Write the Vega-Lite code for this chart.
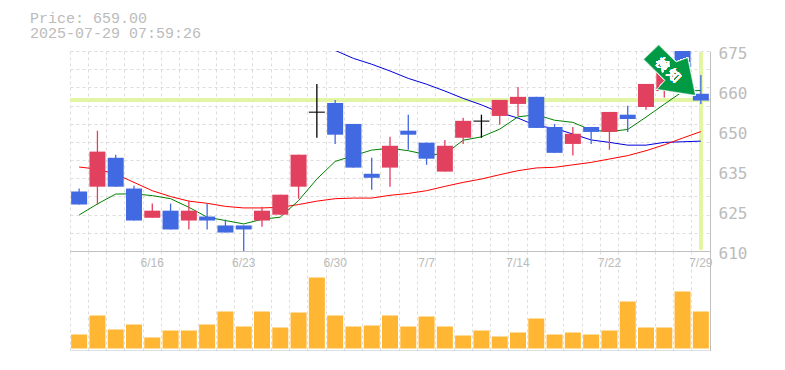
{
"$schema":"https://vega.github.io/schema/vega-lite/v6.json",
"padding":{"left":30,"top":11,"right":0,"bottom":0},
"background":"white",
"title":{"text":["Price: 659.00","2025-07-29 07:59:26"],"anchor":"start","frame":"group","dx":-40,"font":"Liberation Mono","fontSize":15,"fontWeight":"normal","color":"#bbbbbb","lineHeight":15,"offset":2.5},
"spacing":0,
"bounds":"flush",
"config":{"view":{"stroke":null}},
"datasets":{"d":[
{"date":"6/10","dir":"down","open":629.3,"close":625.1,"high":630.3,"low":625.1,"vol":4200,"ma5":621.7,"ma25":637.3},
{"date":"6/11","dir":"up","open":630.9,"close":642.3,"high":649.1,"low":625.1,"vol":9900,"ma5":625.3,"ma25":636.6},
{"date":"6/12","dir":"down","open":640.3,"close":630.9,"high":641.3,"low":630.9,"vol":5700,"ma5":628.5,"ma25":635.0},
{"date":"6/13","dir":"down","open":630.3,"close":619.9,"high":631.2,"low":619.9,"vol":7200,"ma5":628.6,"ma25":632.3},
{"date":"6/16","dir":"up","open":620.8,"close":623.1,"high":625.4,"low":620.8,"vol":3300,"ma5":628.0,"ma25":629.6,"label":"6/16"},
{"date":"6/17","dir":"down","open":623.1,"close":617.0,"high":625.4,"low":617.0,"vol":5400,"ma5":627.0,"ma25":627.7},
{"date":"6/18","dir":"up","open":619.9,"close":623.1,"high":626.4,"low":617.0,"vol":5400,"ma5":624.2,"ma25":626.2},
{"date":"6/19","dir":"down","open":621.2,"close":619.9,"high":625.4,"low":617.0,"vol":7200,"ma5":621.0,"ma25":625.5},
{"date":"6/20","dir":"down","open":618.3,"close":616.0,"high":620.2,"low":616.0,"vol":11100,"ma5":619.9,"ma25":624.5},
{"date":"6/23","dir":"down","open":618.3,"close":617.0,"high":618.3,"low":610.0,"vol":6600,"ma5":618.8,"ma25":624.0,"label":"6/23"},
{"date":"6/24","dir":"up","open":619.9,"close":623.1,"high":624.4,"low":617.9,"vol":11100,"ma5":620.3,"ma25":624.0},
{"date":"6/25","dir":"up","open":621.8,"close":628.3,"high":628.3,"low":621.8,"vol":6300,"ma5":621.0,"ma25":624.2},
{"date":"6/26","dir":"up","open":630.9,"close":641.3,"high":641.3,"low":627.0,"vol":10800,"ma5":626.4,"ma25":625.1},
{"date":"6/27","dir":"flat","open":655.1,"close":655.1,"high":664.3,"low":646.8,"vol":21300,"ma5":633.4,"ma25":626.2},
{"date":"6/30","dir":"down","open":658.1,"close":647.8,"high":659.1,"low":644.8,"vol":9900,"ma5":639.1,"ma25":627.0,"ma75":675.2,"label":"6/30"},
{"date":"7/1","dir":"down","open":651.3,"close":637.1,"high":651.3,"low":637.1,"vol":6600,"ma5":641.0,"ma25":627.2,"ma75":672.6},
{"date":"7/2","dir":"down","open":635.1,"close":633.8,"high":640.3,"low":629.9,"vol":6900,"ma5":642.8,"ma25":627.2,"ma75":670.7},
{"date":"7/3","dir":"up","open":637.1,"close":644.2,"high":647.1,"low":630.9,"vol":9900,"ma5":643.4,"ma25":628.1,"ma75":668.5},
{"date":"7/4","dir":"down","open":649.1,"close":647.8,"high":654.3,"low":642.9,"vol":6600,"ma5":642.6,"ma25":628.7,"ma75":666.1},
{"date":"7/7","dir":"down","open":645.2,"close":640.0,"high":645.2,"low":638.0,"vol":9600,"ma5":641.3,"ma25":629.6,"ma75":664.2,"label":"7/7"},
{"date":"7/8","dir":"up","open":635.8,"close":644.2,"high":646.1,"low":635.8,"vol":6600,"ma5":641.5,"ma25":631.0,"ma75":662.0},
{"date":"7/9","dir":"up","open":646.8,"close":652.3,"high":653.3,"low":644.8,"vol":3900,"ma5":646.0,"ma25":632.3,"ma75":659.6},
{"date":"7/10","dir":"flat","open":652.2,"close":652.2,"high":654.3,"low":646.8,"vol":5400,"ma5":647.1,"ma25":633.4,"ma75":657.5},
{"date":"7/11","dir":"up","open":653.9,"close":659.1,"high":659.1,"low":651.0,"vol":3600,"ma5":649.6,"ma25":634.8,"ma75":655.0},
{"date":"7/14","dir":"up","open":657.8,"close":660.1,"high":663.3,"low":653.9,"vol":4800,"ma5":653.6,"ma25":636.1,"ma75":653.2,"label":"7/14"},
{"date":"7/15","dir":"down","open":660.1,"close":650.0,"high":660.1,"low":650.0,"vol":9000,"ma5":654.3,"ma25":637.0,"ma75":650.7},
{"date":"7/16","dir":"down","open":650.3,"close":641.9,"high":651.3,"low":641.9,"vol":4200,"ma5":652.5,"ma25":637.2,"ma75":649.9},
{"date":"7/17","dir":"up","open":644.8,"close":648.1,"high":650.3,"low":641.0,"vol":4800,"ma5":651.8,"ma25":638.0,"ma75":648.0},
{"date":"7/18","dir":"down","open":650.3,"close":648.7,"high":650.3,"low":644.8,"vol":4200,"ma5":649.3,"ma25":638.8,"ma75":646.1},
{"date":"7/22","dir":"up","open":648.7,"close":655.2,"high":655.2,"low":642.9,"vol":5400,"ma5":648.8,"ma25":639.9,"ma75":645.3,"label":"7/22"},
{"date":"7/23","dir":"down","open":654.3,"close":652.9,"high":657.2,"low":648.7,"vol":14100,"ma5":649.5,"ma25":641.0,"ma75":644.4},
{"date":"7/24","dir":"up","open":656.8,"close":664.3,"high":664.3,"low":655.9,"vol":6300,"ma5":653.5,"ma25":642.6,"ma75":644.4},
{"date":"7/25","dir":"up","open":662.0,"close":668.0,"high":668.0,"low":659.9,"vol":6300,"ma5":657.7,"ma25":644.5,"ma75":645.3},
{"date":"7/28","dir":"down","open":676.0,"close":669.0,"high":676.0,"low":669.0,"vol":17100,"ma5":661.8,"ma25":646.7,"ma75":645.5},
{"date":"7/29","dir":"down","open":661.1,"close":658.9,"high":667.2,"low":657.8,"vol":11100,"ma5":662.2,"ma25":648.8,"ma75":645.7,"label":"7/29"}
]},
"vconcat":[
{"width":640,"height":200,"data":{"name":"d"},
"resolve":{"axis":{"y":"independent"}},
"layer":[
{"mark":{"type":"rule","opacity":0},
 "encoding":{"x":{"field":"date","type":"nominal","sort":null,"title":null,
   "scale":{"paddingInner":0,"paddingOuter":0},
   "axis":{"bandPosition":0,"grid":true,"gridColor":"#dddddd","gridDash":[3,3],"labels":false,"ticks":false,"domain":true,"domainColor":"#c0c0c0","title":null}},
  "y":{"field":"low","type":"quantitative","scale":{"domain":[610,675],"nice":false,"zero":false},"title":null,
   "axis":{"orient":"left","values":[610,615.91,621.82,627.73,633.64,639.55,645.45,651.36,657.27,663.18,669.09,675],"grid":true,"gridColor":"#dddddd","gridDash":[3,3],"labels":false,"ticks":false,"domain":false,"title":null}}}},
{"mark":{"type":"rule","color":"#e2f5a5","strokeWidth":3.5},"encoding":{"y":{"datum":659,"axis":null}}},
{"mark":{"type":"rule","color":"#e2f5a5","strokeWidth":3},"encoding":{"x":{"datum":"7/29"},"y":{"datum":674.4,"axis":null},"y2":{"datum":610.6}}},
{"mark":{"type":"line","color":"#0000dd","strokeWidth":1,"clip":true},"encoding":{"x":{"field":"date","type":"nominal","sort":null},"y":{"field":"ma75","type":"quantitative","axis":null}}},
{"mark":{"type":"line","color":"#ff0000","strokeWidth":1,"clip":true},"encoding":{"x":{"field":"date","type":"nominal","sort":null},"y":{"field":"ma25","type":"quantitative","axis":null}}},
{"mark":{"type":"line","color":"#008000","strokeWidth":1,"clip":true},"encoding":{"x":{"field":"date","type":"nominal","sort":null},"y":{"field":"ma5","type":"quantitative","axis":null}}},
{"mark":{"type":"rule","strokeWidth":1.3,"clip":true},"encoding":{"x":{"field":"date","type":"nominal","sort":null},"y":{"field":"low","type":"quantitative","axis":null},"y2":{"field":"high"},
  "color":{"field":"dir","type":"nominal","legend":null,"scale":{"domain":["up","down","flat"],"range":["#e2405f","#4169e1","#000000"]}}}},
{"transform":[{"filter":"datum.dir !== 'flat'"}],"mark":{"type":"bar","width":16,"clip":true},"encoding":{"x":{"field":"date","type":"nominal","sort":null},"y":{"field":"open","type":"quantitative","axis":null},"y2":{"field":"close"},
  "color":{"field":"dir","type":"nominal","legend":null}}},
{"transform":[{"filter":"datum.dir === 'flat'"}],"mark":{"type":"tick","size":16,"thickness":1.5},"encoding":{"x":{"field":"date","type":"nominal","sort":null},"y":{"field":"open","type":"quantitative","axis":null},
  "color":{"field":"dir","type":"nominal","legend":null}}},
{"mark":{"type":"point","filled":true,"opacity":1,"color":"#009944","stroke":"#ffffff","strokeWidth":0.6,"size":10000,"clip":false,
  "shape":"M-0.112,-0.52L0.236,-0.18L0.468,-0.266L0.622,0.486L-0.144,0.366L0.016,0.186L-0.412,-0.234Z"},
  "encoding":{"x":{"datum":"7/25"},"y":{"datum":668.5,"axis":null}}},
{"mark":{"type":"text","text":"検 知","angle":45,"font":"Noto Sans CJK JP","fontWeight":"normal","fontSize":13,"color":"#ffffff","dx":2,"dy":-3,"clip":false},
  "encoding":{"x":{"datum":"7/25"},"y":{"datum":668.5,"axis":null}}},
{"mark":{"type":"rule","opacity":0},
 "encoding":{"y":{"field":"low","type":"quantitative","title":null,
   "axis":{"orient":"right","values":[675,662,649,636,623,610],"grid":false,"ticks":false,"domain":true,"domainColor":"#c0c0c0","labelFont":"DejaVu Sans Mono","labelFontSize":16,"labelColor":"#bbbbbb","labelPadding":8,"labelOffset":2,"labelBound":false,"labelFlush":false,"labelOverlap":false,"title":null,
   "labelExpr":"datum.value==662?'660':datum.value==649?'650':datum.value==636?'635':datum.value==623?'625':datum.label"}}}}
]},
{"width":640,"height":99.5,"data":{"name":"d"},
"resolve":{"axis":{"y":"independent"}},
"layer":[
{"mark":{"type":"bar","width":16,"color":"#ffb733"},
 "encoding":{"x":{"field":"date","type":"nominal","sort":null,"title":null,
   "scale":{"paddingInner":0,"paddingOuter":0},
   "axis":{"bandPosition":0,"grid":true,"gridColor":"#dddddd","gridDash":[3,3],"labels":false,"ticks":false,"domain":true,"domainColor":"#c0c0c0","title":null}},
  "y":{"field":"vol","type":"quantitative","title":null,"scale":{"domain":[-600,29250],"nice":false},
   "axis":{"orient":"right","grid":false,"labels":false,"ticks":false,"domain":true,"domainColor":"#c0c0c0","title":null}}}},
{"transform":[{"filter":"isValid(datum.label)"}],
 "mark":{"type":"text","font":"Liberation Sans","fontSize":12,"color":"#bbbbbb"},
 "encoding":{"x":{"field":"date","type":"nominal","sort":null},"y":{"datum":25700,"axis":null},"text":{"field":"label"}}}
]}
]
}
